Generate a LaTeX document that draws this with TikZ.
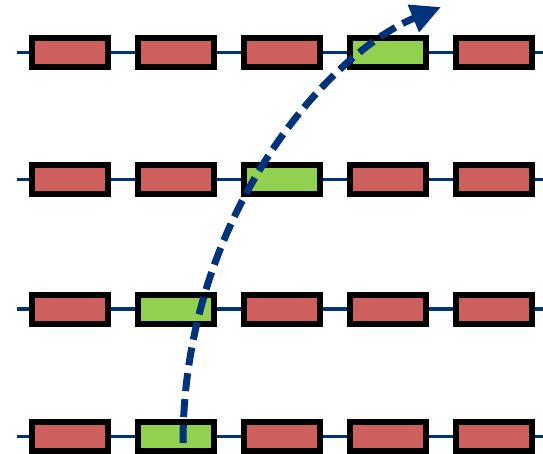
\documentclass[tikz,border=0pt]{standalone}
\usetikzlibrary{arrows.meta}
\definecolor{navy}{HTML}{00337A}
\definecolor{redbox}{HTML}{CD5F5C}
\definecolor{greenbox}{HTML}{92D050}
\begin{document}
\begin{tikzpicture}[x=1pt,y=-1pt,
  cell/.style={draw=black,line width=6pt,fill=redbox,minimum width=76pt,minimum height=29pt,inner sep=0pt},
  hot/.style={cell,fill=greenbox},
  wire/.style={draw=navy,line width=3.3pt},
  jump/.style={draw=navy,line width=7pt,dash pattern=on 18pt off 8pt,-{Triangle[length=30pt,width=28pt]}}]
\useasboundingbox (0,0) rectangle (543,453);
% wires
\foreach \r/\y in {1/52.5,2/179.5,3/309,4/436.5}{
  \coordinate (L\r) at (17,\y);
  \coordinate (R\r) at (545,\y);
  \draw[wire] (L\r) -- (R\r);
}
% row 1
\node[cell] (a1) at (70,52.5) {};
\node[cell] (a2) at (176,52.5) {};
\node[cell] (a3) at (282,52.5) {};
\node[hot]  (a4) at (388,52.5) {};
\node[cell] (a5) at (494,52.5) {};
% row 2
\node[cell] (b1) at (70,179.5) {};
\node[cell] (b2) at (176,179.5) {};
\node[hot]  (b3) at (282,179.5) {};
\node[cell] (b4) at (388,179.5) {};
\node[cell] (b5) at (494,179.5) {};
% row 3
\node[cell] (c1) at (70,309) {};
\node[hot]  (c2) at (176,309) {};
\node[cell] (c3) at (282,309) {};
\node[cell] (c4) at (388,309) {};
\node[cell] (c5) at (494,309) {};
% row 4
\node[cell] (d1) at (70,436.5) {};
\node[hot]  (d2) at (176,436.5) {};
\node[cell] (d3) at (282,436.5) {};
\node[cell] (d4) at (388,436.5) {};
\node[cell] (d5) at (494,436.5) {};
% arrow
\coordinate (s) at (183,443);
\coordinate (t) at (441,7);
\draw[jump] (s) .. controls (183,220) and (325,55) .. (t);
\end{tikzpicture}
\end{document}
